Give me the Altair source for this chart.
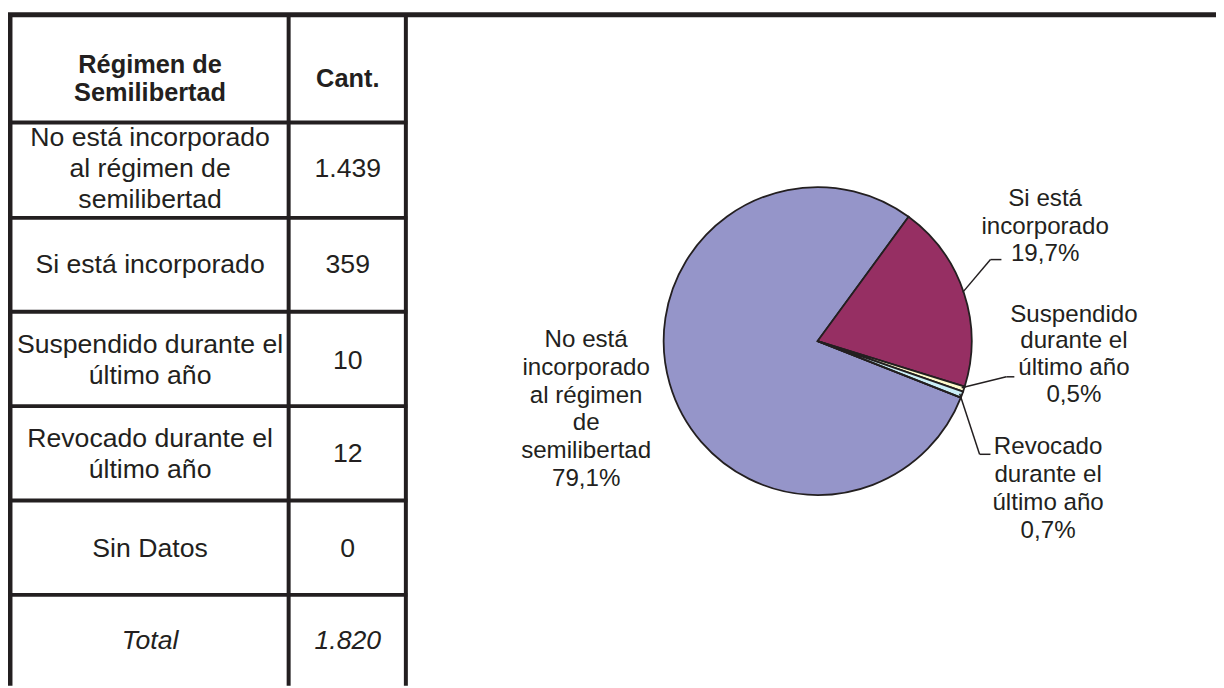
import math
import altair as alt
import pandas as pd

# ---------------- data ----------------
categories = [
    "No está incorporado al régimen de semilibertad",
    "Si está incorporado",
    "Suspendido durante el último año",
    "Revocado durante el último año",
    "Sin Datos",
]
counts = [1439, 359, 10, 12, 0]
table_labels = [
    "No está incorporado\nal régimen de\nsemilibertad",
    "Si está incorporado",
    "Suspendido durante el\núltimo año",
    "Revocado durante el\núltimo año",
    "Sin Datos",
]
count_labels = ["1.439", "359", "10", "12", "0"]
total_text = "Total"
total_label = "1.820"
header_labels = ["Régimen de\nSemilibertad", "Cant."]
pie_labels = [
    "No está\nincorporado\nal régimen\nde\nsemilibertad\n79,1%",
    "Si está\nincorporado\n19,7%",
    "Suspendido\ndurante el\núltimo año\n0,5%",
    "Revocado\ndurante el\núltimo año\n0,7%",
]
slice_colors = ["#9595C9", "#962F63", "#FFFBCC", "#CBEFF7", "#660066"]

# ---------------- layout (page pixel coordinates) ----------------
W, H = 1216, 680
INK = "#231F20"
FONT = "Liberation Sans"
xs = alt.Scale(domain=[8, 8 + W], range=[0, W])
ys = alt.Scale(domain=[8, 8 + H], range=[0, H])

col1_x, col2_x = 151, 350
header_y = 77
row_y = [168, 265, 361, 455, 550]
total_y = 643


def X(f):
    return alt.X(f, type="quantitative", scale=xs, axis=None)


def Y(f):
    return alt.Y(f, type="quantitative", scale=ys, axis=None)


def first_line(texts, centers, lh):
    # y of the first line so that the block of lines is centred on `centers`
    return [c - (t.count("\n")) * lh / 2 for t, c in zip(texts, centers)]


# border / grid lines
hlines = [(8, 1224, 12.5, 5)] + [(8, 410, yy, 4) for yy in (121, 217, 311.5, 406.5, 501.5, 596.5)]
vlines = [(10, 12, 688, 5), (290.5, 12, 688, 4), (408.5, 12, 688, 4)]
rules = pd.DataFrame(
    [dict(x=a, x2=b, y=c, y2=c, w=w) for a, b, c, w in hlines]
    + [dict(x=a, x2=a, y=b, y2=c, w=w) for a, b, c, w in vlines]
)
grid = alt.Chart(rules).mark_rule(color=INK, strokeCap="butt").encode(
    x=X("x"), x2="x2", y=Y("y"), y2="y2",
    strokeWidth=alt.StrokeWidth("w:Q", scale=None),
)

# table text
HLH, BLH = 28, 31
hdr = pd.DataFrame({
    "x": [col1_x, col2_x],
    "y": first_line(header_labels, [header_y, header_y], HLH),
    "t": header_labels,
})
header = alt.Chart(hdr).mark_text(
    font=FONT, fontSize=25.5, fontWeight="bold", color=INK, lineBreak="\n", lineHeight=HLH,
    align="center", baseline="middle",
).encode(x=X("x"), y=Y("y"), text="t:N")

body_texts = table_labels + count_labels
body_df = pd.DataFrame({
    "x": [col1_x] * 5 + [col2_x] * 5,
    "y": first_line(body_texts, row_y + row_y, BLH),
    "t": body_texts,
})
body = alt.Chart(body_df).mark_text(
    font=FONT, fontSize=26.8, color=INK, lineBreak="\n", lineHeight=BLH,
    align="center", baseline="middle",
).encode(x=X("x"), y=Y("y"), text="t:N")

tot_df = pd.DataFrame({"x": [col1_x, col2_x], "y": [total_y, total_y], "t": [total_text, total_label]})
tot = alt.Chart(tot_df).mark_text(
    font=FONT, fontSize=26.8, fontStyle="italic", color=INK, align="center", baseline="middle",
).encode(x=X("x"), y=Y("y"), text="t:N")

# pie
pie_df = pd.DataFrame({"cat": categories, "count": counts, "k": list(range(len(counts)))})
start = math.radians(111.56)
cx, cy, R = 823, 341, 155
pie = alt.Chart(pie_df).mark_arc(outerRadius=R, stroke=INK, strokeWidth=1.8).encode(
    theta=alt.Theta(
        "count:Q", stack=True,
        scale=alt.Scale(domain=[0, sum(counts)], range=[start, start + 2 * math.pi], nice=False),
    ),
    color=alt.Color("cat:N", scale=alt.Scale(domain=categories, range=slice_colors), legend=None),
    order=alt.Order("k:Q"),
    x=alt.value(cx - 8),
    y=alt.value(cy - 8),
)

# pie labels
lab_x = [590, 1052, 1081, 1055]
lab_c = [410, 226, 355, 490]
lab_lh = [28, 27.5, 27, 28]
labels = alt.layer(*[
    alt.Chart(pd.DataFrame({
        "x": [lab_x[i]],
        "y": first_line([pie_labels[i]], [lab_c[i]], lab_lh[i]),
        "t": [pie_labels[i]],
    })).mark_text(
        font=FONT, fontSize=24.3, color=INK, lineBreak="\n", lineHeight=lab_lh[i],
        align="center", baseline="middle",
    ).encode(x=X("x"), y=Y("y"), text="t:N")
    for i in range(len(pie_labels))
])

# leader lines
segs = [
    (969, 292, 997, 259), (997, 259, 1008, 259),
    (968, 388, 1013, 377), (1013, 377, 1021, 377),
    (966, 394, 986, 455), (986, 455, 997, 455),
]
lead_df = pd.DataFrame([dict(x=a, y=b, x2=c, y2=d) for a, b, c, d in segs])
leaders = alt.Chart(lead_df).mark_rule(color=INK, strokeWidth=1.5).encode(
    x=X("x"), y=Y("y"), x2="x2", y2="y2"
)

chart = alt.layer(grid, header, body, tot, pie, labels, leaders).properties(
    width=W, height=H, padding=0, autosize="none"
).configure_view(stroke=None)

chart.save("out.html", embed_options={"renderer": "svg", "actions": False})
